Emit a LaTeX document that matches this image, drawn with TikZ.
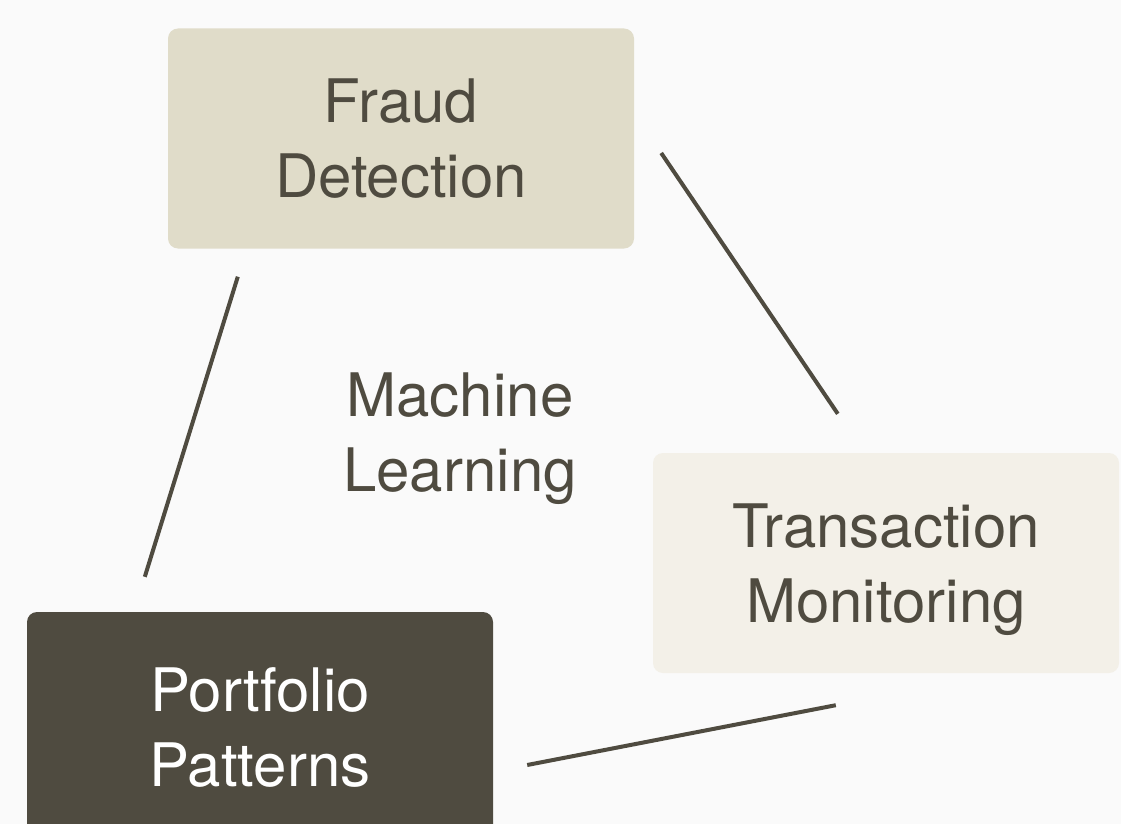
\documentclass[tikz,border=0pt]{standalone}
\usepackage{fontspec}
\setmainfont{TeX Gyre Heros}
\usetikzlibrary{calc}
\definecolor{bgcol}{HTML}{FAFAFA}
\definecolor{ink}{HTML}{4F4B40}
\definecolor{sand}{HTML}{E0DCC9}
\definecolor{cream}{HTML}{F3F0E8}
\begin{document}
\begin{tikzpicture}[x=1pt,y=-1pt,
  card/.style={rounded corners=10pt, inner sep=0pt, minimum width=466pt,
    minimum height=220pt, align=center, font=\fontsize{60}{75}\selectfont},
  link/.style={draw=ink, line width=4pt}]
  \fill[bgcol] (0,0) rectangle (1121,824);
  \useasboundingbox (0,0) rectangle (1121,824);

  \node[card, fill=sand, text=ink] (fraud) at (401,138.5) {Fraud\\Detection};
  \node[card, fill=cream, text=ink] (trans) at (886,563) {Transaction\\\smash{Monitoring}};
  \node[card, fill=ink, text=white, minimum height=230pt] (port) at (260,727) {Portfolio\\Patterns};
  \node[text=ink, align=center, inner sep=0pt, font=\fontsize{60}{75}\selectfont]
    (ml) at (460,432) {Machine\\\smash{Learning}};

  % connector end points, set off from the cards
  \coordinate (fraudS) at ($(fraud.south west)+(70,28)$);
  \coordinate (portN)  at ($(port.north west)+(118,-35)$);
  \coordinate (fraudE) at ($(fraud.east)+(27,14.5)$);
  \coordinate (transN) at ($(trans.north west)+(185,-39)$);
  \coordinate (transS) at ($(trans.south west)+(183,32)$);
  \coordinate (portE)  at ($(port.east)+(34,38)$);

  \draw[link] (fraudS) -- (portN);
  \draw[link] (fraudE) -- (transN);
  \draw[link] (transS) -- (portE);
\end{tikzpicture}
\end{document}
